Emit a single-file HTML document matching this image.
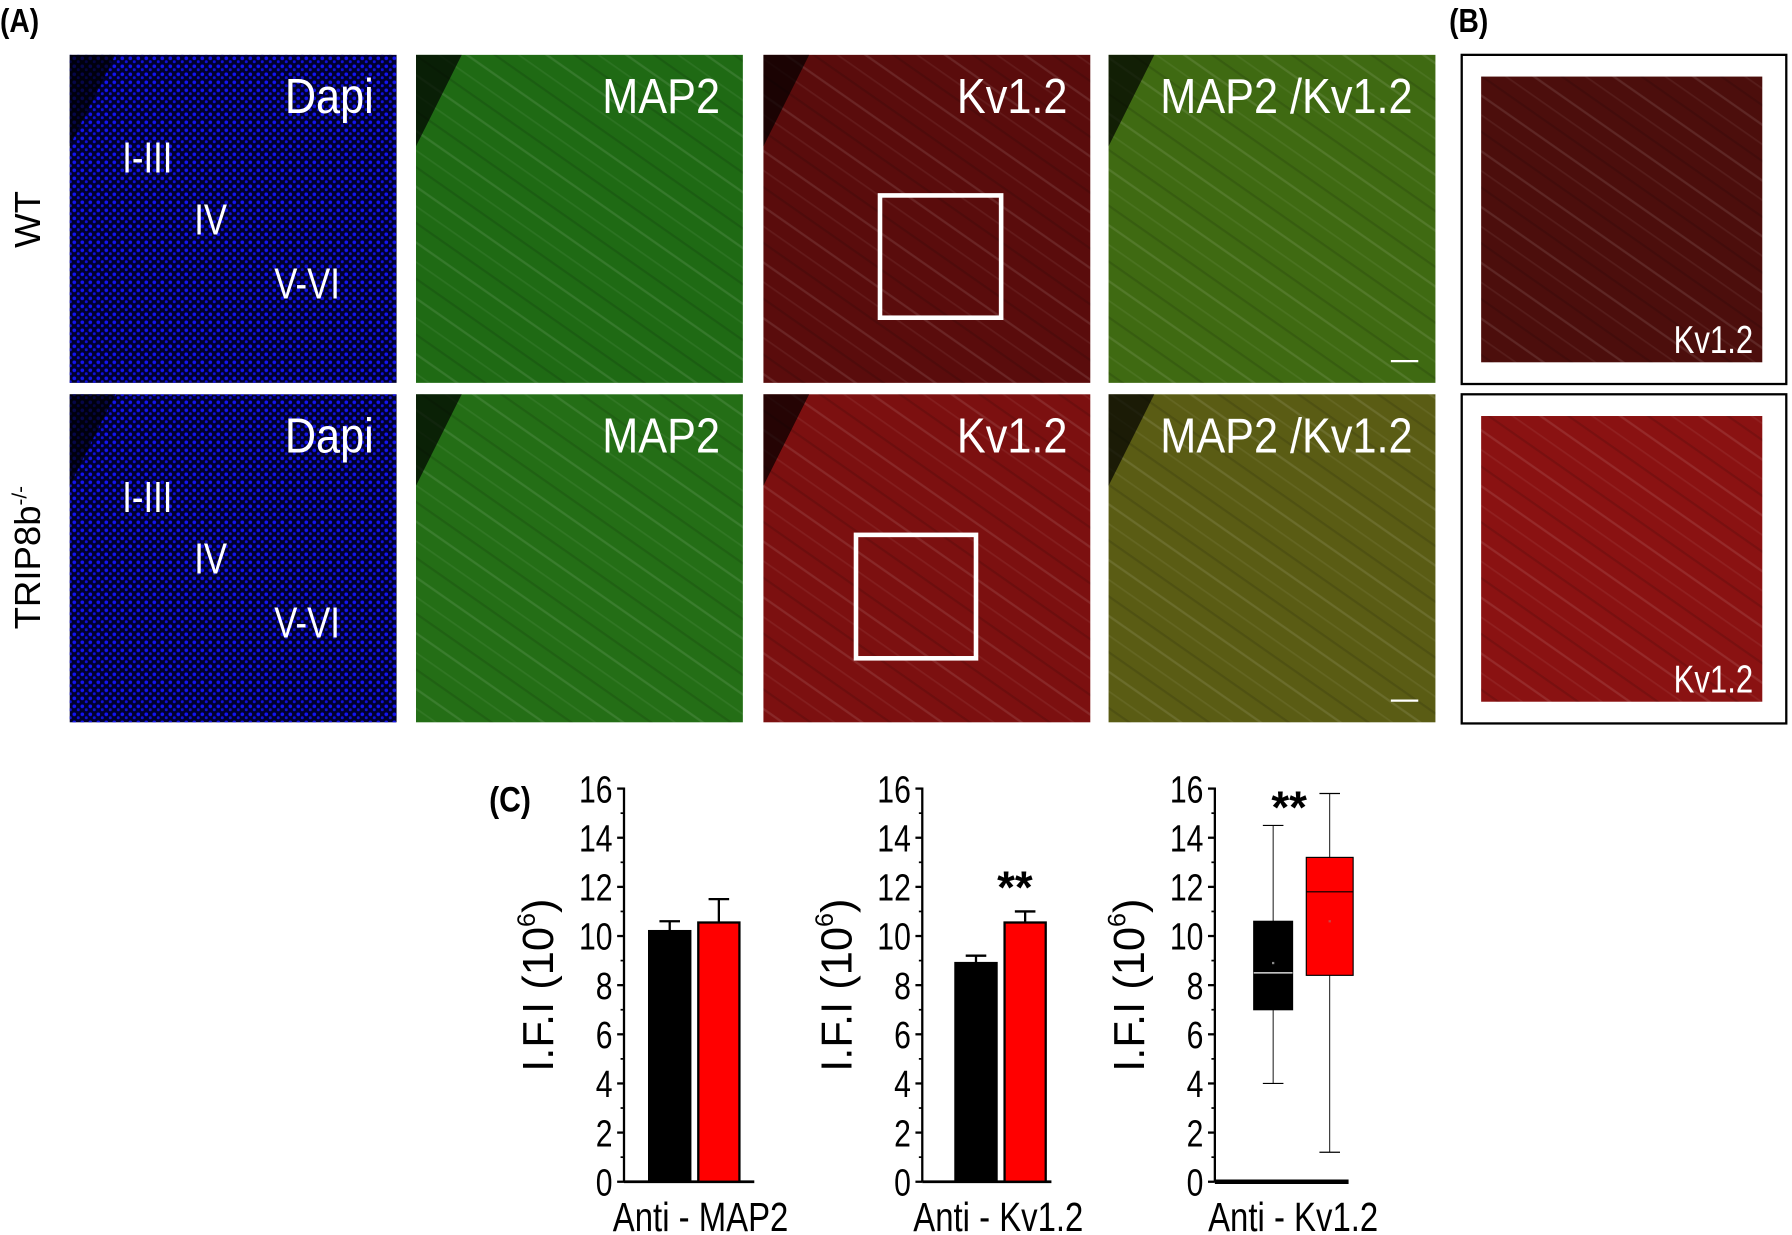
<!DOCTYPE html>
<html><head><meta charset="utf-8"><style>
html,body{margin:0;padding:0;background:#fff;}
svg{display:block;}
text{font-family:"Liberation Sans",sans-serif;}
</style></head><body>
<svg id="fig" width="1792" height="1235" viewBox="0 0 1568 1080.6" preserveAspectRatio="none" xmlns="http://www.w3.org/2000/svg">
<defs>
<pattern id="streaks" width="40" height="40" patternUnits="userSpaceOnUse" patternTransform="rotate(35)">
<rect width="40" height="40" fill="none"/>
<line x1="0" y1="5" x2="40" y2="5" stroke="rgba(255,255,255,0.10)" stroke-width="2"/>
<line x1="0" y1="19" x2="40" y2="19" stroke="rgba(255,255,255,0.06)" stroke-width="1.5"/>
<line x1="0" y1="31" x2="40" y2="31" stroke="rgba(0,0,0,0.12)" stroke-width="2"/>
</pattern>
<pattern id="dots" width="7" height="7" patternUnits="userSpaceOnUse">
<rect width="7" height="7" fill="none"/>
<circle cx="2" cy="2" r="1.6" fill="#1414f0"/>
<circle cx="5.5" cy="5" r="1.3" fill="#1010d8"/>
</pattern>
</defs>

<g id="panelA"></g>

<text transform="translate(0,28) scale(0.85,1)" font-size="29" font-weight="bold" fill="#000">(A)</text>
<text transform="translate(1268,28) scale(0.85,1)" font-size="29" font-weight="bold" fill="#000">(B)</text>
<text transform="translate(428,710) scale(0.85,1)" font-size="31" font-weight="bold" fill="#000">(C)</text>
<text transform="translate(35,192) rotate(-90)" text-anchor="middle" font-size="32" fill="#000">WT</text>
<text transform="translate(35,488) rotate(-90)" text-anchor="middle" font-size="32" fill="#000">TRIP8b<tspan dy="-12" font-size="18">-/-</tspan></text>

<g id="charts"></g>
</svg>
<script>
const NS='http://www.w3.org/2000/svg';
const A=document.getElementById('panelA');
function mk(tag,attrs,parent){const e=document.createElementNS(NS,tag);for(const k in attrs)e.setAttribute(k,attrs[k]);parent.appendChild(e);return e;}
function ntext(x,y,str,size,anchor,parent,fill,sx){
 const t=mk('text',{transform:`translate(${x},${y}) scale(${sx||0.8},1)`,'text-anchor':anchor,'font-size':size,fill:fill||'#000'},parent);
 t.textContent=str;return t;
}
const colX=[61,364,668,970];
const rowY=[48,345];
const W=286,H=287;
const baseCols=[['#00002e','#00002e'],['#1f6a14','#246e16'],['#5a0c0c','#7c1010'],['#3f6a12','#5a5c14']];
const names=['Dapi','MAP2','Kv1.2','MAP2 /Kv1.2'];
for(let r=0;r<2;r++){for(let c=0;c<4;c++){
 const g=mk('g',{},A);
 
 
 mk('rect',{x:colX[c],y:rowY[r],width:W,height:H,fill:baseCols[c][r]},g);
 mk('rect',{x:colX[c],y:rowY[r],width:W,height:H,fill:c===0?'url(#dots)':'url(#streaks)'},g);
 mk('polygon',{points:`${colX[c]},${rowY[r]} ${colX[c]+40},${rowY[r]} ${colX[c]},${rowY[r]+80}`,fill:'rgba(0,0,0,0.7)'},g);
 ntext(colX[c]+W-20,rowY[r]+51,names[c],43,'end',g,'#fff',0.88);
 if(c===0){
  const lays=[['I-III',107,103],['IV',170,157],['V-VI',240,213]];
  lays.forEach(l=>ntext(l[1],rowY[r]+l[2],l[0],38,'start',g,'#fff'));
 }
 if(c===2){
  const bx=r===0?[770,171,106,107]:[749,468,105,108];
  mk('rect',{x:bx[0],y:bx[1],width:bx[2],height:bx[3],fill:'none',stroke:'#fff','stroke-width':4},g);
 }
 if(c===3){mk('line',{x1:1217,x2:1241,y1:rowY[r]+268,y2:rowY[r]+268,stroke:'#fff','stroke-width':2},g);}
}}
[[48,'#4c0e0c'],[345,'#8a1212']].forEach((b,i)=>{
 const g=mk('g',{},A);
 
 
 mk('rect',{x:1279,y:b[0],width:284,height:288,fill:'#fff',stroke:'#000','stroke-width':2},g);
 mk('rect',{x:1296,y:b[0]+19,width:246,height:250,fill:b[1]},g);
 mk('rect',{x:1296,y:b[0]+19,width:246,height:250,fill:'url(#streaks)'},g);
 ntext(1534,b[0]+261,'Kv1.2',34,'end',g,'#fff');
});

// ---- Panel C data ----
const yTicks=[0,2,4,6,8,10,12,14,16];
const groups=['WT','TRIP8b-/-'];
const map2Means=[10.2,10.55];
const map2Err=[0.4,0.95];
const kvMeans=[8.9,10.55];
const kvErr=[0.3,0.45];
const boxQ1=[7.0,8.4];
const boxMedian=[8.5,11.8];
const boxQ3=[10.6,13.2];
const boxMin=[4.0,1.2];
const boxMax=[14.5,15.8];
const boxMean=[8.9,10.6];
const xLabels=['Anti - MAP2','Anti - Kv1.2','Anti - Kv1.2'];
const colors=['#000','#ff0000'];

const C=document.getElementById('charts');
const y0=1034,y16=690;
function yS(v){return y0-(v/16)*(y0-y16);}
function axis(ax,xEnd,idx){
 const g=mk('g',{},C);
 
 
 mk('line',{x1:ax,x2:ax,y1:y16-1,y2:y0,stroke:'#000','stroke-width':2},g);
 for(let v=0;v<=16;v+=1){
  const maj=v%2===0;
  mk('line',{x1:ax-(maj?6:3),x2:ax,y1:yS(v),y2:yS(v),stroke:'#000','stroke-width':maj?2:1.5},g);
 }
 yTicks.forEach(v=>ntext(ax-10,yS(v)+12,String(v),33,'end',g));
 const xa=mk('line',{x1:ax,x2:xEnd,y1:y0,y2:y0,stroke:'#000','stroke-width':idx===2?4:2.5},C);
 
 
 const yt=mk('text',{transform:`translate(${ax-62},${862}) rotate(-90)`,'text-anchor':'middle','font-size':38,fill:'#000'},C);
 
 
 yt.innerHTML='I.F.I (10<tspan dy="-16" font-size="22">6</tspan><tspan dy="16">)</tspan>';
 const xl=ntext((ax+xEnd)/2+10,1077,xLabels[idx],36,'middle',C);
 
 
}
function bars(ax,means,errs,idx,xs){
 means.forEach((m,i)=>{
  const x=xs[i],w=36;
  const e=mk('line',{x1:x+w/2,x2:x+w/2,y1:yS(m),y2:yS(m+errs[i]),stroke:'#000','stroke-width':2},C);
  
  
  mk('line',{x1:x+w/2-9,x2:x+w/2+9,y1:yS(m+errs[i]),y2:yS(m+errs[i]),stroke:'#000','stroke-width':2},C);
  const r=mk('rect',{x:x,y:yS(m),width:w,height:y0-yS(m),fill:colors[i],stroke:'#000','stroke-width':2},C);
  
  
 });
}
axis(546,660,0);
bars(546,map2Means,map2Err,0,[568,611]);
axis(807,920,1);
bars(807,kvMeans,kvErr,1,[836,879]);
const s1=mk('text',{x:888,y:790,'text-anchor':'middle','font-size':40,'font-weight':'bold',fill:'#000'},C);


s1.textContent='**';
axis(1063,1180,2);
const bxs=[[1097,34],[1143,41]];
groups.forEach((gname,i)=>{
 const x=bxs[i][0],w=bxs[i][1],cx=x+w/2;
 const wl=mk('line',{x1:cx,x2:cx,y1:yS(boxMin[i]),y2:yS(boxMax[i]),stroke:'#000','stroke-width':0.8},C);
 
 
 mk('line',{x1:cx-9,x2:cx+9,y1:yS(boxMin[i]),y2:yS(boxMin[i]),stroke:'#000','stroke-width':1},C);
 mk('line',{x1:cx-9,x2:cx+9,y1:yS(boxMax[i]),y2:yS(boxMax[i]),stroke:'#000','stroke-width':1},C);
 const b=mk('rect',{x:x,y:yS(boxQ3[i]),width:w,height:yS(boxQ1[i])-yS(boxQ3[i]),fill:colors[i],stroke:'#000','stroke-width':1},C);
 
 
 mk('line',{x1:x,x2:x+w,y1:yS(boxMedian[i]),y2:yS(boxMedian[i]),stroke:i===0?'#fff':'#000','stroke-width':1},C);
 const mm=mk('rect',{x:cx-1,y:yS(boxMean[i])-1,width:2,height:2,fill:i===0?'#888':'#c44'},C);
 
 
});
const s2=mk('text',{x:1128,y:720,'text-anchor':'middle','font-size':40,'font-weight':'bold',fill:'#000'},C);


s2.textContent='**';
</script>
</body></html>
